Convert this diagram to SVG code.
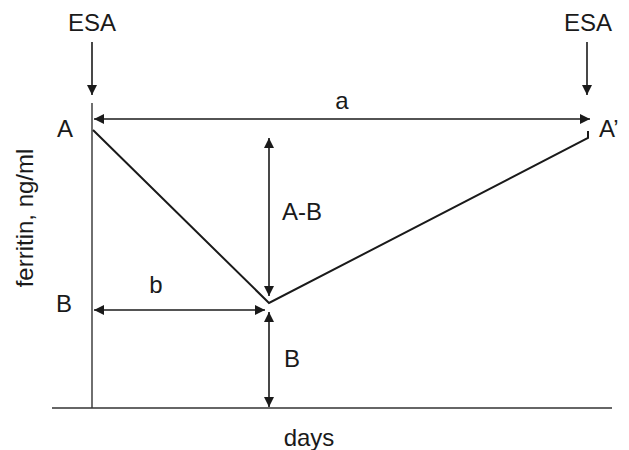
<svg xmlns="http://www.w3.org/2000/svg" width="629" height="450" viewBox="0 0 629 450">
<style>
text{font-family:"Liberation Sans",Arial,sans-serif;font-size:24px;fill:#1a1a1a}
.ln{stroke:#1a1a1a;stroke-width:1.6;fill:none}
.cv{stroke:#1a1a1a;stroke-width:2;fill:none}
.ax{stroke:#333;stroke-width:1.4;fill:none}
</style>
<defs>
<marker id="ah" viewBox="0 0 10 10" refX="10" refY="5" markerWidth="11" markerHeight="10" markerUnits="userSpaceOnUse" orient="auto-start-reverse">
<path d="M0,0 L10,5 L0,10 z" fill="#1a1a1a"/>
</marker>
</defs>
<rect width="629" height="450" fill="#fff"/>
<g id="axes">
<line class="ax" x1="92" y1="103" x2="92" y2="408"/>
<line class="ax" x1="52" y1="408" x2="612" y2="408"/>
</g>
<g id="labels">
<text x="92" y="31" text-anchor="middle">ESA</text>
<text x="588" y="31" text-anchor="middle">ESA</text>
<text x="65" y="137" text-anchor="middle">A</text>
<text x="599" y="137">A’</text>
<text x="64" y="312" text-anchor="middle">B</text>
<text x="342" y="109" text-anchor="middle">a</text>
<text x="156" y="293" text-anchor="middle">b</text>
<text x="282" y="220">A-B</text>
<text x="284" y="367">B</text>
<text x="309" y="446" text-anchor="middle">days</text>
<text transform="translate(33,218) rotate(-90)" text-anchor="middle" font-size="25">ferritin, ng/ml</text>
</g>
<g id="curve">
<polyline class="cv" points="93,130 269,303 588,138 588,131"/>
</g>
<g id="connectors">
<line class="ln" x1="92" y1="42" x2="92" y2="95" marker-end="url(#ah)"/>
<line class="ln" x1="587" y1="42" x2="587" y2="95" marker-end="url(#ah)"/>
<line class="ln" x1="94" y1="119" x2="590" y2="119" marker-start="url(#ah)" marker-end="url(#ah)"/>
<line class="ln" x1="269" y1="138" x2="269" y2="296" marker-start="url(#ah)" marker-end="url(#ah)"/>
<line class="ln" x1="94" y1="310" x2="265" y2="310" marker-start="url(#ah)" marker-end="url(#ah)"/>
<line class="ln" x1="269" y1="312" x2="269" y2="407" marker-start="url(#ah)" marker-end="url(#ah)"/>
</g>
</svg>
